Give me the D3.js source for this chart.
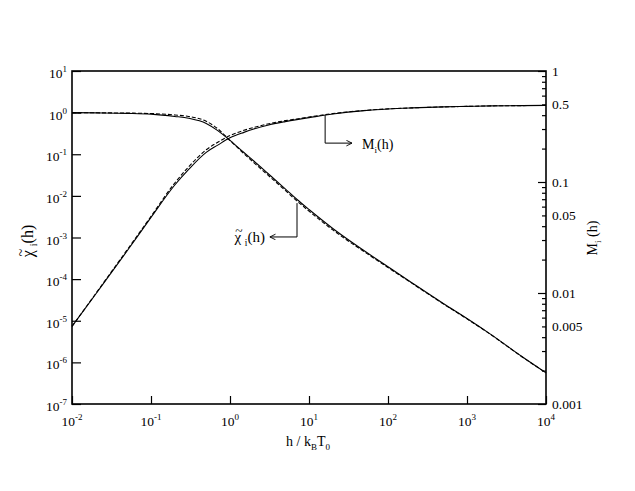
<!DOCTYPE html>
<html>
<head>
<meta charset="utf-8">
<script src="https://cdn.jsdelivr.net/npm/d3@7"></script>
<style>
  body { margin: 0; background: #fff; }
</style>
</head>
<body>
<script>
// field values h / kB T0
const hValues = [0.01, 0.02, 0.05, 0.1, 0.2, 0.3, 0.5, 0.7, 1, 1.5, 2, 3, 5, 7, 10, 20, 50, 100, 200, 500, 1000, 2000, 5000, 10000];

// reduced susceptibility (left axis)
const chiSolid  = [1.0, 0.985, 0.96, 0.92, 0.81, 0.73, 0.55, 0.37, 0.215, 0.11, 0.069, 0.035, 0.0148, 0.0083, 0.0047, 0.00165, 4.8e-4, 1.98e-4, 8.2e-5, 2.6e-5, 1.13e-5, 4.7e-6, 1.36e-6, 5.6e-7];
const chiDashed = [1.0, 0.99, 0.975, 0.95, 0.88, 0.81, 0.62, 0.41, 0.215, 0.103, 0.063, 0.032, 0.0135, 0.0076, 0.0043, 0.00152, 4.55e-4, 1.9e-4, 8.0e-5, 2.55e-5, 1.11e-5, 4.65e-6, 1.35e-6, 5.6e-7];

// magnetisation (right axis)
const mSolid  = [0.005, 0.0098, 0.024, 0.048, 0.094, 0.13, 0.185, 0.215, 0.25, 0.28, 0.30, 0.325, 0.35, 0.365, 0.38, 0.41, 0.44, 0.455, 0.465, 0.475, 0.48, 0.485, 0.488, 0.49];
const mDashed = [0.005, 0.0099, 0.0245, 0.049, 0.098, 0.137, 0.195, 0.228, 0.262, 0.292, 0.31, 0.333, 0.357, 0.37, 0.385, 0.413, 0.441, 0.456, 0.465, 0.475, 0.48, 0.485, 0.488, 0.49];

// tick labels
const xExponents = [-2, -1, 0, 1, 2, 3, 4];
const leftExponents = [-7, -6, -5, -4, -3, -2, -1, 0, 1];
const rightLabels = [1, 0.5, 0.1, 0.05, 0.01, 0.005, 0.001];

const width = 635, height = 491;
const plotL = 72, plotR = 546, plotT = 71, plotB = 404;

const svg = d3.select("body").append("svg")
    .attr("width", width)
    .attr("height", height)
    .attr("font-family", "'Liberation Serif', 'Times New Roman', serif");

const x = d3.scaleLog().domain([1e-2, 1e4]).range([plotL, plotR]);
const yL = d3.scaleLog().domain([1e-7, 10]).range([plotB, plotT]);
const yR = d3.scaleLog().domain([1e-3, 1]).range([plotB, plotT]);

// axes (ticks point inwards, labels drawn separately)
svg.append("g")
    .attr("transform", `translate(0,${plotB})`)
    .call(d3.axisBottom(x).tickValues(xExponents.map(e => Math.pow(10, e))).tickSize(-8).tickFormat(""));

svg.append("g")
    .attr("transform", `translate(${plotL},0)`)
    .call(d3.axisLeft(yL).tickValues(leftExponents.map(e => Math.pow(10, e))).tickSize(-9).tickFormat(""));

const minor = [];
[0.001, 0.01, 0.1].forEach(d => { for (let k = 2; k <= 9; k++) minor.push(d * k); });

svg.append("g")
    .attr("transform", `translate(${plotR},0)`)
    .call(d3.axisRight(yR).tickValues(minor).tickSize(-4).tickFormat(""));
svg.append("g")
    .attr("transform", `translate(${plotR},0)`)
    .call(d3.axisRight(yR).tickValues([0.001, 0.01, 0.1, 1]).tickSize(-8).tickFormat(""));

svg.selectAll(".domain").remove();
svg.selectAll(".tick line").attr("stroke", "#000").attr("stroke-width", 1.2);

// frame
svg.append("rect")
    .attr("x", plotL).attr("y", plotT)
    .attr("width", plotR - plotL).attr("height", plotB - plotT)
    .attr("fill", "none").attr("stroke", "#000").attr("stroke-width", 1.6);

// tick labels
const xl = svg.append("g").selectAll("text")
    .data(xExponents).join("text")
    .attr("x", d => x(Math.pow(10, d)))
    .attr("y", plotB + 22)
    .attr("text-anchor", "middle")
    .attr("font-size", 13.5);
xl.append("tspan").text("10");
xl.append("tspan").attr("dy", -6).attr("font-size", 9).text(d => d);

const yl = svg.append("g").selectAll("text")
    .data(leftExponents).join("text")
    .attr("x", plotL - 5)
    .attr("y", d => yL(Math.pow(10, d)) + 7)
    .attr("text-anchor", "end")
    .attr("font-size", 13.5);
yl.append("tspan").text("10");
yl.append("tspan").attr("dy", -6).attr("font-size", 9).text(d => d);

svg.append("g").selectAll("text")
    .data(rightLabels).join("text")
    .attr("x", plotR + 6)
    .attr("y", d => yR(d) + 5)
    .attr("font-size", 13.5)
    .text(d => d);

// axis titles
const xt = svg.append("text")
    .attr("x", 308).attr("y", 446)
    .attr("text-anchor", "middle")
    .attr("font-size", 14);
xt.append("tspan").text("h / k");
xt.append("tspan").attr("dy", 4).attr("font-size", 9).text("B");
xt.append("tspan").attr("dy", -4).text("T");
xt.append("tspan").attr("dy", 4).attr("font-size", 9).text("0");

// chi with a tilde above it, then subscript i and (h), all in one text
function chiLabel(parent, size, anchor) {
    const t = parent.append("text").attr("font-size", size);
    const chi = t.append("tspan").text("\u03C7");
    const tl = t.append("tspan").attr("font-size", size * 0.9).text("~");
    const cw = chi.node().getComputedTextLength();
    const tw = tl.node().getComputedTextLength();
    const lift = size * 0.45;
    tl.attr("dx", -(cw + tw) / 2 + 1).attr("dy", -lift);
    t.append("tspan").attr("dx", (cw - tw) / 2 - 1).attr("dy", lift).text(" ");
    t.append("tspan").attr("dy", 4).attr("font-size", size * 0.62).text("i");
    t.append("tspan").attr("dy", -4).text("(h)");
    t.attr("text-anchor", anchor);
}

chiLabel(svg.append("g").attr("transform", "translate(33,241) rotate(-90)"), 16, "middle");

const rt = svg.append("text")
    .attr("transform", "translate(597,238) rotate(-90)")
    .attr("text-anchor", "middle")
    .attr("font-size", 14);
rt.append("tspan").text("M");
rt.append("tspan").attr("dy", 4).attr("font-size", 9).text("i");
rt.append("tspan").attr("dy", -4).text(" (h)");

// curves
const chiLine = d3.line()
    .x((d, i) => x(hValues[i]))
    .y(d => yL(d))
    .curve(d3.curveMonotoneX);
const mLine = d3.line()
    .x((d, i) => x(hValues[i]))
    .y(d => yR(d))
    .curve(d3.curveMonotoneX);

const curves = svg.append("g").attr("fill", "none").attr("stroke", "#000").attr("stroke-width", 1.1);
curves.append("path").attr("d", chiLine(chiDashed)).attr("stroke-dasharray", "4,2");
curves.append("path").attr("d", mLine(mDashed)).attr("stroke-dasharray", "4,2");
curves.append("path").attr("d", chiLine(chiSolid));
curves.append("path").attr("d", mLine(mSolid));

// annotation arrows
svg.append("defs").append("marker")
    .attr("id", "arrow")
    .attr("viewBox", "0 -5 10 10")
    .attr("refX", 9).attr("refY", 0)
    .attr("markerWidth", 7).attr("markerHeight", 7)
    .attr("markerUnits", "userSpaceOnUse")
    .attr("orient", "auto")
    .append("path")
    .attr("d", "M1,-4L9,0L1,4")
    .attr("fill", "none").attr("stroke", "#000").attr("stroke-width", 1.3);

const mx = x(16), mx2 = x(35), my1 = yR(0.4), my2 = yR(0.224);
svg.append("path")
    .attr("d", `M${mx},${my1}V${my2}H${mx2}`)
    .attr("fill", "none").attr("stroke", "#000").attr("stroke-width", 1)
    .attr("marker-end", "url(#arrow)");
const ma = svg.append("text").attr("x", x(47)).attr("y", yR(0.2)).attr("font-size", 14);
ma.append("tspan").text("M");
ma.append("tspan").attr("dy", 4).attr("font-size", 9).text("i");
ma.append("tspan").attr("dy", -4).text("(h)");

const cx = x(7.05), cx2 = x(3.2), cy1 = yL(0.0067), cy2 = yL(0.00103);
svg.append("path")
    .attr("d", `M${cx},${cy1}V${cy2}H${cx2}`)
    .attr("fill", "none").attr("stroke", "#000").attr("stroke-width", 1)
    .attr("marker-end", "url(#arrow)");
chiLabel(svg.append("g").attr("transform", `translate(${x(2.77)},${yL(7.8e-4)})`), 15, "end");
</script>
</body>
</html>
